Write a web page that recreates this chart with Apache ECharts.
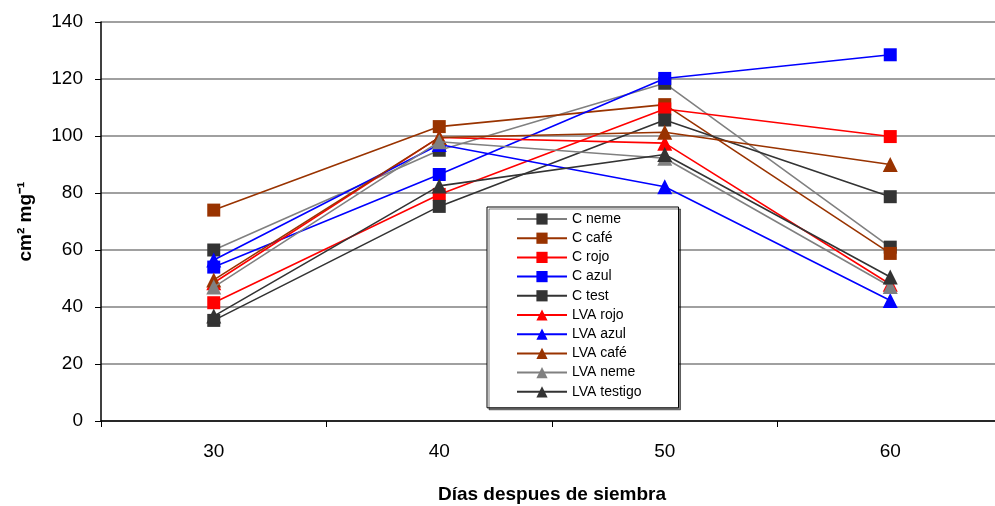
<!DOCTYPE html>
<html><head><meta charset="utf-8">
<script src="https://cdn.jsdelivr.net/npm/echarts@6/dist/echarts.min.js"></script>
<style>html,body{margin:0;padding:0;background:#fff}#c{width:995px;height:506px}</style>
</head><body><div id="c"></div>
<script>
const categories = ['30', '40', '50', '60'];
const yTicks = [0, 20, 40, 60, 80, 100, 120, 140];
const seriesNames = ['C neme', 'C café', 'C rojo', 'C azul', 'C test', 'LVA rojo', 'LVA azul', 'LVA café', 'LVA neme', 'LVA testigo'];
const cNeme = [60, 95, 118.5, 61];
const cCafe = [74, 103.3, 111, 58.8];
const cRojo = [41.5, 79.5, 109.5, 99.8];
const cAzul = [54, 86.5, 120.2, 128.5];
const cTest = [35.3, 75.3, 105.6, 78.7];
const lvaRojo = [48.5, 99.5, 97.5, 48];
const lvaAzul = [56.5, 97, 82.2, 42.3];
const lvaCafe = [49.5, 99.5, 101.3, 90];
const lvaNeme = [47, 98, 92.2, 47.2];
const lvaTestigo = [36.8, 82.5, 93.5, 50.5];

const values = [cNeme, cCafe, cRojo, cAzul, cTest, lvaRojo, lvaAzul, lvaCafe, lvaNeme, lvaTestigo];
const lineColors = ['#808080', '#993300', '#FF0000', '#0000FF', '#333333', '#FF0000', '#0000FF', '#993300', '#808080', '#333333'];
const markerColors = ['#333333', '#993300', '#FF0000', '#0000FF', '#333333', '#FF0000', '#0000FF', '#993300', '#808080', '#333333'];
const symbols = ['rect', 'rect', 'rect', 'rect', 'rect', 'triangle', 'triangle', 'triangle', 'triangle', 'triangle'];

const chart = echarts.init(document.getElementById('c'));
const font = 'Liberation Sans, Arial, sans-serif';
chart.setOption({
  animation: false,
  backgroundColor: '#fff',
  grid: { left: 101, top: 22, width: 902, height: 399, containLabel: false, outerBoundsMode: 'none' },
  legend: {
    orient: 'vertical', left: 487, top: 207,
    backgroundColor: '#fff', borderColor: '#000', borderWidth: 1,
    padding: [5, 37, 9, 29], itemGap: 5.2, itemWidth: 50, itemHeight: 14, itemTextGap: 4,
    data: seriesNames,
    textStyle: { fontFamily: font, fontSize: 14, color: '#000' },
    shadowColor: 'rgba(0,0,0,0.5)', shadowOffsetX: 2, shadowOffsetY: 2
  },
  xAxis: {
    type: 'category', data: categories, boundaryGap: true,
    name: 'Días despues de siembra', nameLocation: 'middle', nameGap: 64,
    nameTextStyle: { fontFamily: font, fontSize: 19, fontWeight: 'bold', color: '#000' },
    axisLine: { lineStyle: { color: '#000', width: 1.5 } },
    axisTick: { show: true, length: 6, lineStyle: { color: '#000' } },
    axisLabel: { fontFamily: font, fontSize: 19, color: '#000', margin: 21 },
    splitLine: { show: false }
  },
  yAxis: {
    type: 'value', min: 0, max: 140, interval: 20,
    name: 'cm² mg⁻¹', nameLocation: 'middle', nameGap: 66, nameRotate: 90,
    nameTextStyle: { fontFamily: font, fontSize: 19, fontWeight: 'bold', color: '#000' },
    axisLine: { show: true, lineStyle: { color: '#000', width: 1.5 } },
    axisTick: { show: true, inside: false, length: 6, lineStyle: { color: '#000' } },
    axisLabel: { fontFamily: font, fontSize: 19, color: '#000', margin: 18,
      formatter: v => yTicks.includes(v) ? String(v) : '' },
    splitLine: { show: true, lineStyle: { color: '#808080', width: 1.5 } }
  },
  series: seriesNames.map((n, i) => ({
    name: n, type: 'line', data: values[i],
    symbol: symbols[i], symbolSize: symbols[i] === 'rect' ? 13 : 15,
    lineStyle: { color: lineColors[i], width: 1.6 },
    itemStyle: { color: markerColors[i] },
    color: markerColors[i],
    z: 2 + i
  }))
});
</script></body></html>
